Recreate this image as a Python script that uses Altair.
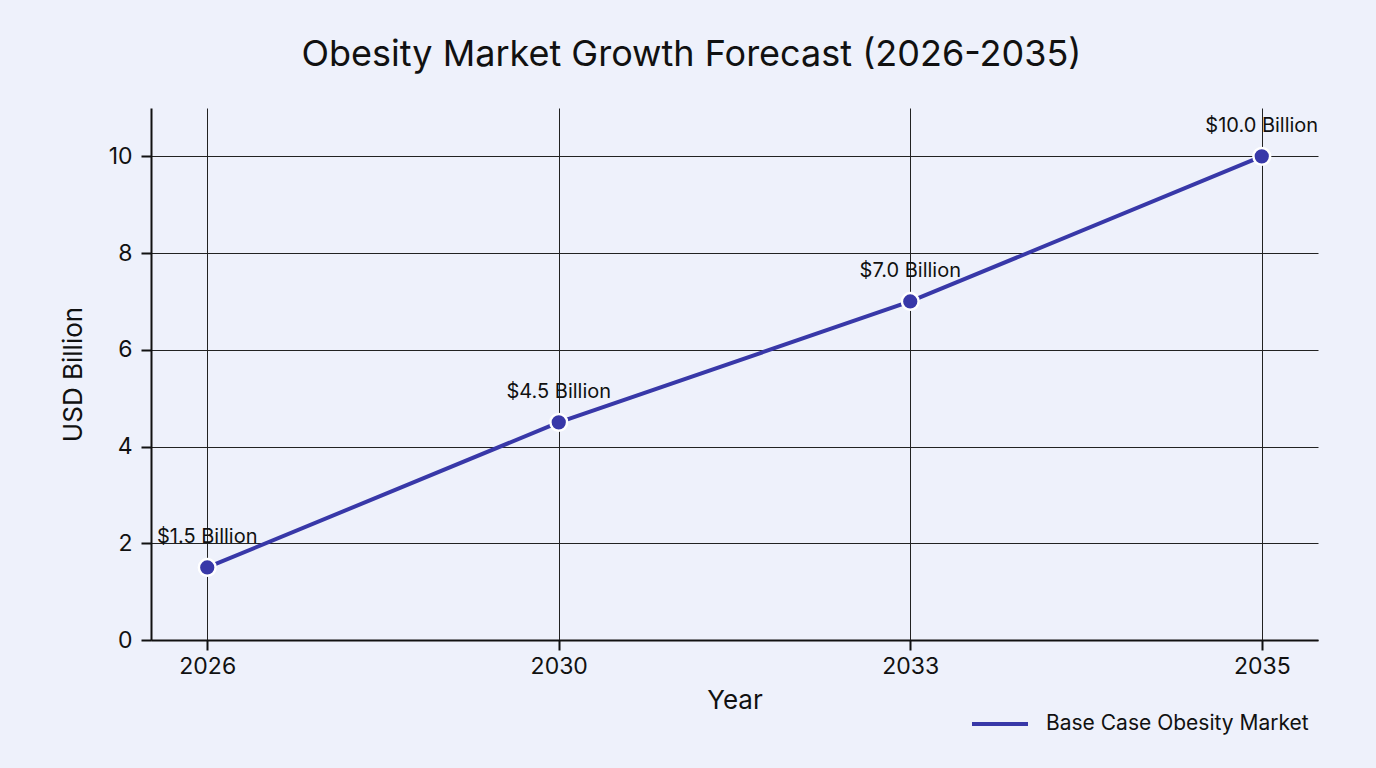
import altair as alt
import pandas as pd

years = ["2026", "2030", "2033", "2035"]
values = [1.5, 4.5, 7.0, 10.0]
labels = ["$1.5 Billion", "$4.5 Billion", "$7.0 Billion", "$10.0 Billion"]
series = ["Base Case Obesity Market"] * 4

df = pd.DataFrame({"Year": years, "Value": values, "Label": labels, "Series": series})

FONT = "Inter"
LINE = "#3838a8"

x = alt.X("Year:O", sort=years,
          scale=alt.Scale(type="point", padding=0.16),
          axis=alt.Axis(title="Year", labelAngle=0, labelFontSize=23, titleFontSize=26,
                        titleFontWeight="normal", labelColor="#111", titleColor="#111",
                        domainColor="#111", domainWidth=2, tickColor="#111", tickWidth=2,
                        tickSize=10, labelPadding=5, titlePadding=9,
                        grid=True, gridColor="#222", gridWidth=1))
y = alt.Y("Value:Q",
          scale=alt.Scale(domain=[0, 11], nice=False),
          axis=alt.Axis(title="USD Billion", values=[0, 2, 4, 6, 8, 10], labelFontSize=23,
                        titleFontSize=26, titleFontWeight="normal", labelColor="#111",
                        titleColor="#111", domainColor="#111", domainWidth=2,
                        tickColor="#111", tickWidth=2, tickSize=10, labelPadding=9,
                        titlePadding=22, grid=True, gridColor="#222", gridWidth=1))

base = alt.Chart(df)

line = base.mark_line(strokeWidth=4, color=LINE).encode(
    x=x, y=y,
    color=alt.Color("Series:N", scale=alt.Scale(range=[LINE]),
                    legend=alt.Legend(title=None, orient="none", legendX=819, legendY=586,
                                      symbolType="stroke", symbolSize=3136,
                                      symbolStrokeWidth=4, labelFontSize=21,
                                      labelLimit=400, labelColor="#111", labelOffset=16)))
points = base.mark_point(filled=True, size=280, color=LINE, stroke="white",
                         strokeWidth=2.5, opacity=1, strokeOpacity=1).encode(x=x, y=y)
text = base.mark_text(dy=-30, fontSize=20, color="#111", font=FONT).encode(
    x=x, y=y, text="Label:N")

chart = alt.layer(line, points, text).properties(
    width=1167, height=532,
    background="#eef1fb",
    padding={"left": 151, "top": 108, "right": 58, "bottom": 128},
    autosize=alt.AutoSizeParams(type="none"),
    title=alt.TitleParams("Obesity Market Growth Forecast (2026-2035)", fontSize=36,
                          fontWeight="normal", color="#111", font=FONT,
                          anchor="middle", dx=-43, offset=34),
).configure(font=FONT).configure_view(stroke=None)

chart.save("out.html", embed_options={"renderer": "svg", "actions": False})
